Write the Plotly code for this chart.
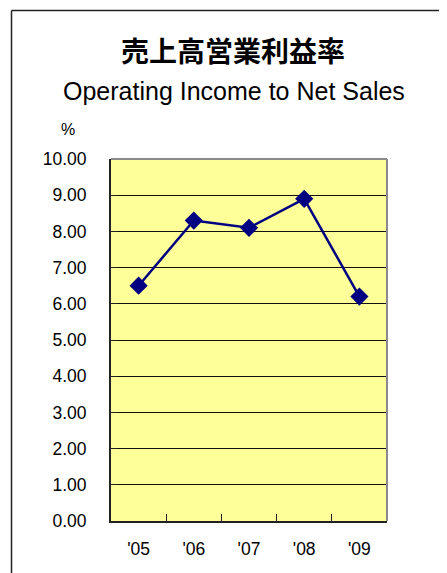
import plotly.graph_objects as go

categories = ["'05", "'06", "'07", "'08", "'09"]
values = [6.5, 8.3, 8.1, 8.9, 6.2]
y_ticks = [0, 1, 2, 3, 4, 5, 6, 7, 8, 9, 10]

OFF = 8  # default page body margin
W, H = 447 - OFF, 573 - OFF
L, R, T, B = 111 - OFF, 387 - OFF, 159 - OFF, 521 - OFF
pw, ph = R - L, B - T

def px(x):
    return (x - OFF - L) / pw

def py(y):
    return (B - (y - OFF)) / ph

FONT = "Liberation Sans, Arial, sans-serif"

fig = go.Figure()
fig.add_trace(go.Scatter(
    x=categories, y=values, mode="lines+markers",
    line=dict(color="#000080", width=2.5),
    marker=dict(symbol="diamond", size=14, color="#000080"),
    showlegend=False, cliponaxis=False,
))

fig.update_layout(
    width=W, height=H,
    margin=dict(l=L, r=W - R, t=T, b=H - B, pad=0),
    paper_bgcolor="white",
    plot_bgcolor="#FFFF99",
    font=dict(family=FONT, size=17.5, color="black"),
    xaxis=dict(
        type="category", tickson="boundaries", ticks="inside", ticklen=7,
        tickcolor="#222", tickwidth=1, showgrid=False,
        showline=True, linecolor="#222", linewidth=2,
        ticklabelstandoff=11, range=[-0.5, 4.5],
    ),
    yaxis=dict(
        range=[0, 10], tickvals=y_ticks, tickformat=".2f",
        showgrid=True, gridcolor="#111", gridwidth=1,
        ticks="inside", ticklen=6, tickcolor="#222",
        showline=True, linecolor="#222", linewidth=2,
        ticklabelstandoff=19, zeroline=False,
    ),
    shapes=[
        dict(type="line", xref="paper", yref="paper", x0=0, x1=1, y0=1, y1=1,
             line=dict(color="#8a8a8a", width=2)),
        dict(type="line", xref="paper", yref="paper", x0=1, x1=1, y0=0, y1=1,
             line=dict(color="#8a8a8a", width=2)),
        dict(type="line", xref="paper", yref="paper", x0=px(11.5), x1=px(470),
             y0=py(10.5), y1=py(10.5), line=dict(color="#222", width=1.5)),
        dict(type="line", xref="paper", yref="paper", x0=px(11.5), x1=px(11.5),
             y0=py(10.5), y1=py(600), line=dict(color="#222", width=1.5)),
    ],
    annotations=[
        dict(text="<b>売上高営業利益率</b>", xref="paper", yref="paper",
             x=px(233), y=py(50), xanchor="center", yanchor="middle", showarrow=False,
             font=dict(family="Noto Sans CJK JP, sans-serif", size=28, color="black")),
        dict(text="Operating Income to Net Sales", xref="paper", yref="paper",
             x=px(234), y=py(91), xanchor="center", yanchor="middle", showarrow=False,
             font=dict(family=FONT, size=25, color="black")),
        dict(text="%", xref="paper", yref="paper",
             x=px(68), y=py(129), xanchor="center", yanchor="middle", showarrow=False,
             font=dict(family=FONT, size=16, color="black")),
    ],
)

fig.write_html("out.html")
